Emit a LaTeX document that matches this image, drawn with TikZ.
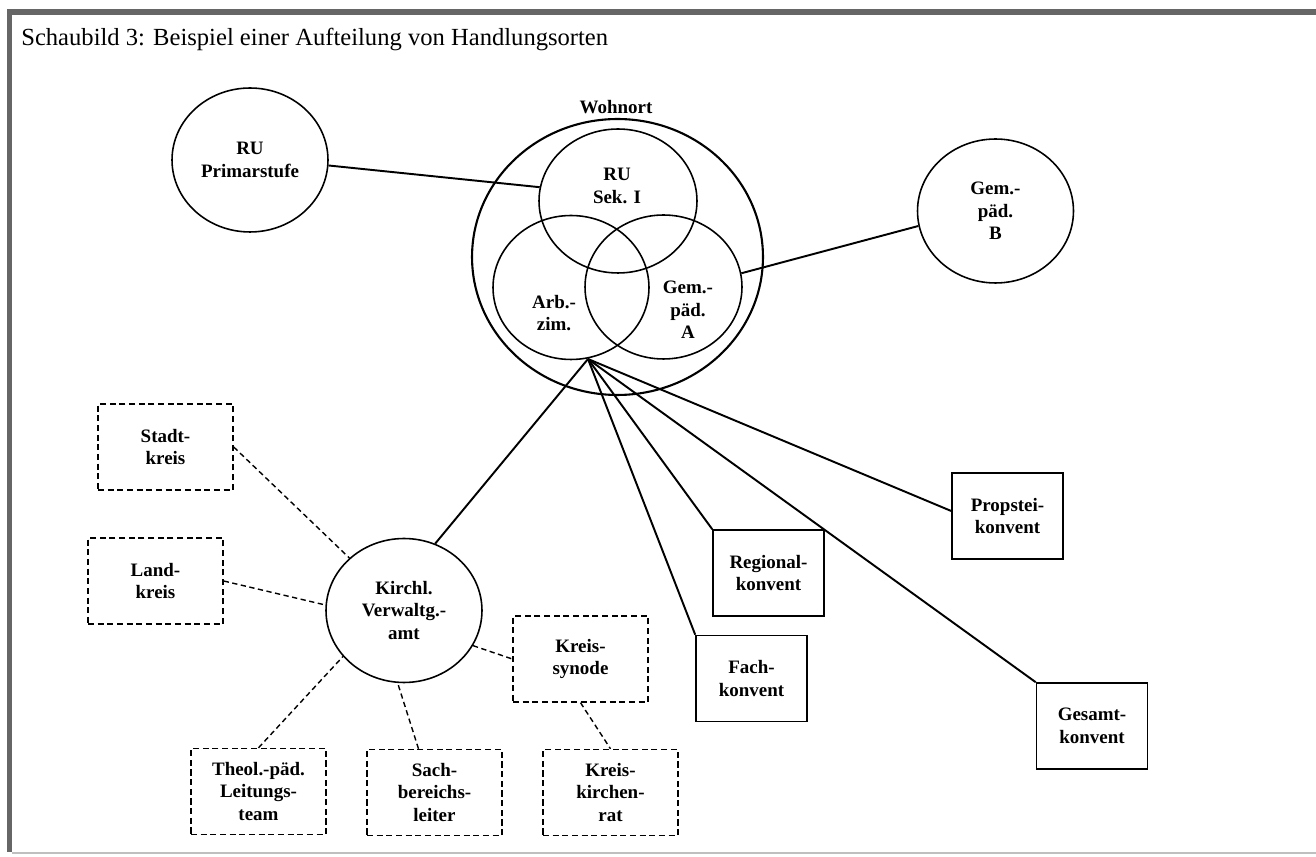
\documentclass[tikz,border=0pt]{standalone}
\usepackage{fontspec}
\setmainfont{Liberation Serif}
\usetikzlibrary{shapes.geometric}
\usetikzlibrary{calc}

\newcommand{\knotenschrift}{\fontsize{10.8}{12.8}\selectfont\bfseries}
\newcommand{\titelschrift}{\fontsize{14}{16}\selectfont}

\tikzset{
  ort/.style={ellipse, draw, line width=0.9pt, inner sep=0pt, minimum width=3.12cm, minimum height=2.88cm, align=center, font=\knotenschrift},
  knotentext/.style={inner sep=0pt, align=center, font=\knotenschrift},
  konvent/.style={rectangle, draw, line width=0.9pt, minimum width=2.22cm, minimum height=1.72cm, align=center, font=\knotenschrift},
  kreisbox/.style={rectangle, draw, line width=0.8pt, dash pattern=on 3.5pt off 2pt, minimum width=2.7cm, minimum height=1.72cm, align=center, font=\knotenschrift},
  linie/.style={line width=1.1pt},
  strich/.style={line width=0.8pt, dash pattern=on 3pt off 2pt}
}

\begin{document}
\begin{tikzpicture}[x=0.02cm, y=-0.02cm]
\useasboundingbox (0,0) rectangle (1316,857);
% Rahmen
\fill[black!60] (7,9) rectangle (1316,15);
\fill[black!60] (7,9) rectangle (12,852);
\draw[black!25, line width=0.6pt] (12,853) -- (1316,853);

\node[font=\titelschrift, inner sep=0pt, anchor=base west] (titel) at (21,46) {Schaubild 3: Beispiel einer Aufteilung von Handlungsorten};

% Wohnort mit den drei Kreisen
\node[ort, minimum width=5.82cm, minimum height=5.52cm, line width=1.2pt] (wohnort) at (617.5,257) {};
\node[knotentext, anchor=base] (wohnorttext) at (616,114) {Wohnort};
\node[ort, minimum width=3.16cm] (sek) at (618,201) {};
\node[ort] (arb) at (571,287.5) {};
\node[ort, minimum width=3.14cm] (gema) at (663.5,287) {};
\node[knotentext] (sektext) at (617,186) {RU\\Sek. I};
\node[knotentext] (arbtext) at (554,313) {Arb.-\\zim.};
\node[knotentext] (gematext) at (688,310) {Gem.-\\päd.\\A};

\node[ort] (prim) at (250,160) {RU\\Primarstufe};
\node[ort] (gemb) at (995.5,211) {Gem.-\\päd.\\B};

% Verwaltungsamt
\node[ort] (kirchl) at (404,610.5) {Kirchl.\\Verwaltg.-\\amt};
\node[kreisbox] (stadt) at (165.5,447) {Stadt-\\kreis};
\node[kreisbox] (land) at (155.5,581) {Land-\\kreis};
\node[kreisbox] (theol) at (258.5,791.5) {Theol.-päd.\\Leitungs-\\team};
\node[kreisbox] (sach) at (434.5,792.5) {Sach-\\bereichs-\\leiter};
\node[kreisbox] (synode) at (580.5,659) {Kreis-\\synode};
\node[kreisbox] (krat) at (610.5,792.5) {Kreis-\\kirchen-\\rat};

% Konvente
\node[konvent] (fach) at (751.5,678.5) {Fach-\\konvent};
\node[konvent] (regional) at (768.5,573) {Regional-\\konvent};
\node[konvent] (propstei) at (1007.5,516) {Propstei-\\konvent};
\node[konvent] (gesamt) at (1092,726) {Gesamt-\\konvent};

% Verbindungen
\draw[linie] (prim.-4) -- (sek.170);
\draw[linie] (gema.10) -- (gemb.191);
\coordinate (hub) at (588,359);
\draw[linie] (hub) -- (kirchl.65);
\foreach \ziel in {fach, regional, gesamt}
  \draw[linie] (hub) -- (\ziel.north west);
\draw[linie] (hub) -- ($(propstei.west)+(0,-5)$);

\draw[strich] (stadt.east) -- (kirchl);
\draw[strich] (land.east) -- (kirchl.176);
\draw[strich] (theol.north) -- (kirchl.217);
\draw[strich] ($(sach.north)+(-16,0)$) -- (kirchl.-95);
\draw[strich] (kirchl.-27) -- (synode.west);
\draw[strich] (synode.south) -- (krat.north);
\end{tikzpicture}
\end{document}
